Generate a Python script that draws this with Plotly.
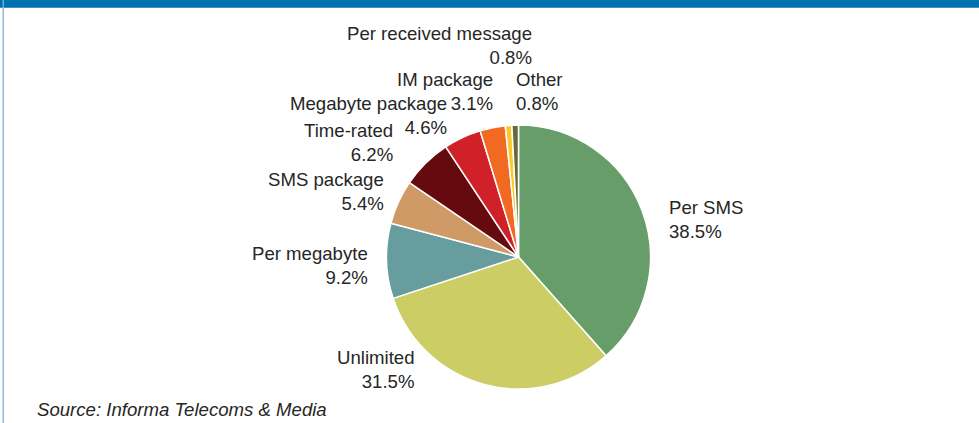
import plotly.graph_objects as go

labels = ["Per SMS", "Unlimited", "Per megabyte", "SMS package", "Time-rated",
          "Megabyte package", "IM package", "Per received message", "Other"]
values = [38.5, 31.5, 9.2, 5.4, 6.2, 4.6, 3.1, 0.8, 0.8]
colors = ["#679D68", "#CDCD65", "#679D9E", "#CF9A66", "#650A0E",
          "#D02129", "#F26A22", "#FDC82F", "#676B36"]

# label placement in pixels: (x, y_mid, anchor)
label_pos = {
    "Per SMS": (667, 219.5, "left"),
    "Unlimited": (417, 369, "right"),
    "Per megabyte": (370, 265, "right"),
    "SMS package": (386, 191, "right"),
    "Time-rated": (395, 142.5, "right"),
    "Megabyte package": (449, 115.5, "right"),
    "IM package": (495, 92, "right"),
    "Per received message": (534, 45, "right"),
    "Other": (514, 92, "left"),
}

W, H = 979, 423
cx, cy, r = 518.5, 257, 132
FONT = "Liberation Sans, Arial, sans-serif"

fig = go.Figure(go.Pie(
    labels=labels, values=values, sort=False, direction="clockwise", rotation=0,
    marker=dict(colors=colors, line=dict(color="white", width=1.5)),
    textinfo="none", hoverinfo="label+percent", showlegend=False,
    domain=dict(x=[(cx - r) / W, (cx + r) / W], y=[1 - (cy + r) / H, 1 - (cy - r) / H]),
))

annotations = []
for lab, val in zip(labels, values):
    px, py, anc = label_pos[lab]
    annotations.append(dict(
        x=px / W, y=1 - py / H, xref="paper", yref="paper",
        xanchor=anc, yanchor="middle", align=anc, showarrow=False,
        text=f"{lab}<br>{val:.1f}%",
        font=dict(family=FONT, size=18.6, color="#262626"),
    ))
annotations.append(dict(
    x=35 / W, y=1 - 409 / H, xref="paper", yref="paper", xanchor="left", yanchor="middle",
    showarrow=False, text="<i>Source: Informa Telecoms & Media</i>",
    font=dict(family=FONT, size=18.6, color="#262626"),
))

shapes = [
    dict(type="rect", xref="paper", yref="paper", x0=0, x1=1, y0=1 - 7.7 / H, y1=1,
         fillcolor="#0071B0", line=dict(width=0)),
    dict(type="line", xref="paper", yref="paper", x0=3.2 / W, x1=3.2 / W, y0=0, y1=1,
         line=dict(color="#7FB0D6", width=1.3)),
]

fig.update_layout(
    width=W, height=H, margin=dict(l=0, r=0, t=0, b=0),
    paper_bgcolor="white", plot_bgcolor="white",
    annotations=annotations, shapes=shapes,
)
fig.write_html("out.html")
